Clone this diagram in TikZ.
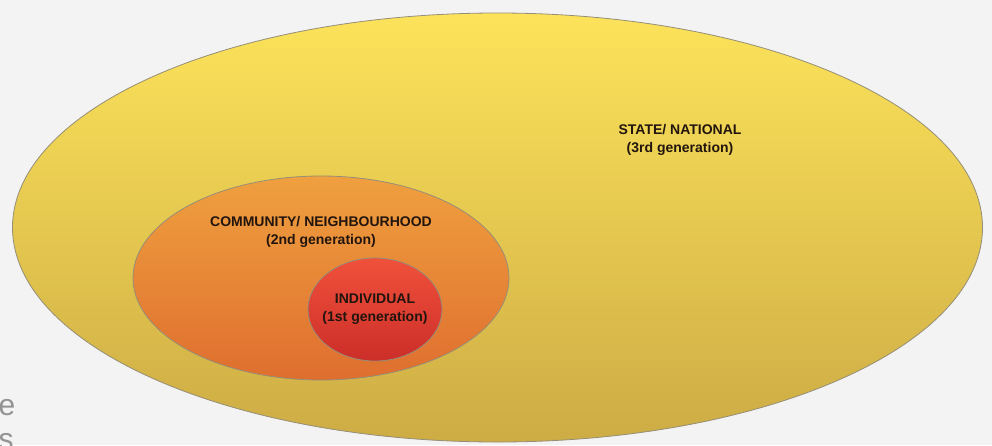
\documentclass[tikz,border=0pt]{standalone}
\usepackage{fontspec}
\setmainfont{Liberation Sans}
\usetikzlibrary{shapes.geometric}

\definecolor{bgGrey}{HTML}{F3F3F4}
\definecolor{rimGrey}{HTML}{958E78}
\definecolor{yelTop}{HTML}{FCE35A}
\definecolor{yelBot}{HTML}{CDAC45}
\definecolor{orTop}{HTML}{EFA03F}
\definecolor{orBot}{HTML}{DF6E2F}
\definecolor{redTop}{HTML}{F0513B}
\definecolor{redBot}{HTML}{CC2E29}
\definecolor{inkDark}{HTML}{22150E}

\tikzset{
	zone/.style = {ellipse, draw = rimGrey, line width = 0.8pt, inner sep = 0pt},
	tag/.style = {align = center, text = inkDark, font = \bfseries\fontsize{14}{18}\selectfont},
	stray/.style = {text = gray!85, font = \fontsize{30}{34}\selectfont, anchor = base west}
}

\begin{document}
\begin{tikzpicture}[x = 1pt, y = -1pt]
	\useasboundingbox (0,0) rectangle (992,445);
	\clip (0,0) rectangle (992,445);
	\fill[bgGrey] (0,0) rectangle (992,445);
	
	\node[zone, top color = yelTop, bottom color = yelBot, minimum width = 970pt, minimum height = 429pt](STATE) at (497.5,227.5){};
	\node[zone, top color = orTop, bottom color = orBot, minimum width = 376pt, minimum height = 204pt](COMM) at (321,278){};
	\node[zone, top color = redTop, bottom color = redBot, minimum width = 134pt, minimum height = 103pt](INDIV) at (375,309.5){};
	
	\node[tag](STATEL) at (680,140){STATE/ NATIONAL\\(3rd generation)};
	\node[tag](COMML) at (321,232){COMMUNITY/ NEIGHBOURHOOD\\(2nd generation)};
	\node[tag](INDIVL) at (INDIV){INDIVIDUAL\\(1st generation)};
	
	\node[stray](E1) at (-5,415){e};
	\node[stray](S1) at (-5,449){s};
\end{tikzpicture}
\end{document}
